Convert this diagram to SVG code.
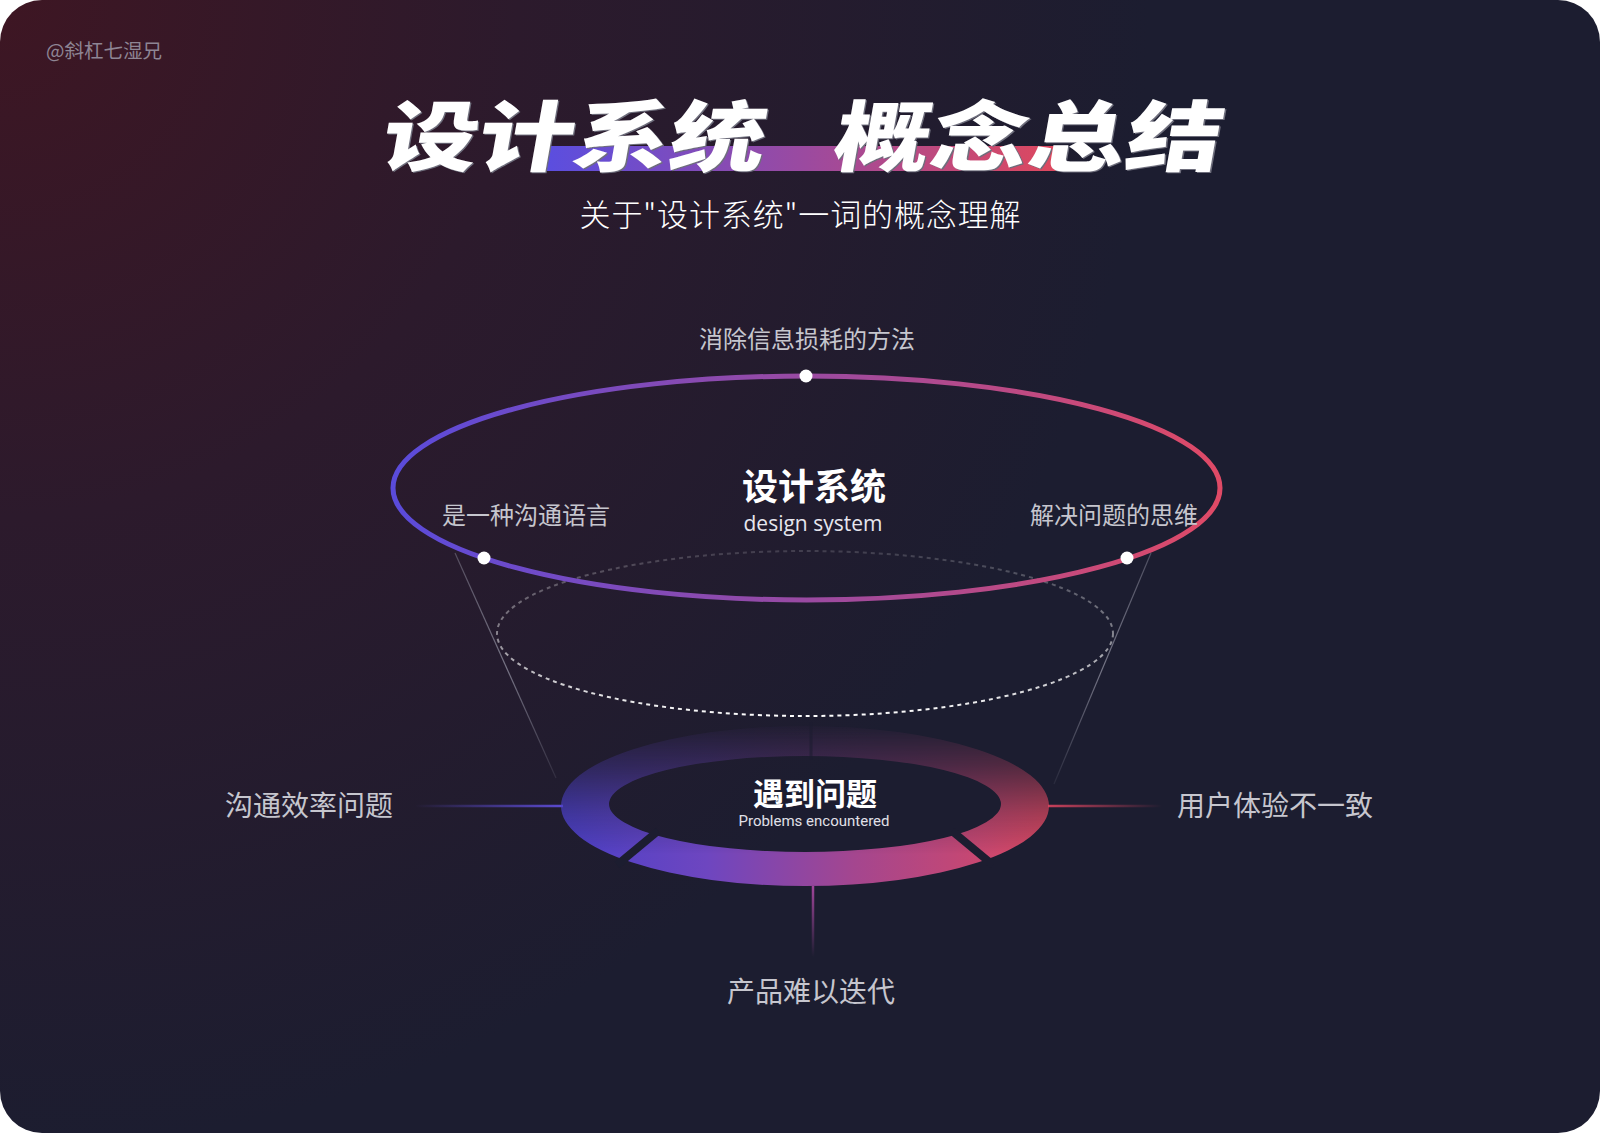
<svg xmlns="http://www.w3.org/2000/svg" width="1600" height="1133" viewBox="0 0 1600 1133">
<defs>
<radialGradient id="bg" cx="0" cy="0" r="1150" gradientUnits="userSpaceOnUse">
<stop offset="0" stop-color="#3e1623"/>
<stop offset="0.45" stop-color="#2c1a2c"/>
<stop offset="1" stop-color="#1c1d30"/>
</radialGradient>
<linearGradient id="bar" x1="0" y1="0" x2="1" y2="0">
<stop offset="0" stop-color="#5a4ee0"/>
<stop offset="0.5" stop-color="#9b4aa0"/>
<stop offset="1" stop-color="#e0485c"/>
</linearGradient>
<linearGradient id="ring1" x1="0" y1="0" x2="1" y2="0">
<stop offset="0" stop-color="#5a4bdb"/>
<stop offset="0.5" stop-color="#9a4aa2"/>
<stop offset="1" stop-color="#e04a66"/>
</linearGradient>
<linearGradient id="dash" x1="0" y1="551" x2="0" y2="716" gradientUnits="userSpaceOnUse">
<stop offset="0" stop-color="#ffffff" stop-opacity="0.15"/>
<stop offset="0.5" stop-color="#ffffff" stop-opacity="0.45"/>
<stop offset="1" stop-color="#ffffff" stop-opacity="1"/>
</linearGradient>
<linearGradient id="ring2" x1="561" y1="0" x2="1049" y2="0" gradientUnits="userSpaceOnUse">
<stop offset="0" stop-color="#4b40c8"/>
<stop offset="0.3" stop-color="#6e46c0"/>
<stop offset="0.6" stop-color="#a4468f"/>
<stop offset="1" stop-color="#dc4860"/>
</linearGradient>
<linearGradient id="fade" x1="0" y1="726" x2="0" y2="886" gradientUnits="userSpaceOnUse">
<stop offset="0" stop-color="#fff" stop-opacity="0.03"/>
<stop offset="0.25" stop-color="#fff" stop-opacity="0.3"/>
<stop offset="0.55" stop-color="#fff" stop-opacity="0.72"/>
<stop offset="0.8" stop-color="#fff" stop-opacity="1"/>
</linearGradient>
<mask id="ringMask" maskUnits="userSpaceOnUse" x="540" y="700" width="530" height="200">
<rect x="540" y="700" width="530" height="200" fill="url(#fade)"/>
</mask>
<linearGradient id="lnL" x1="415" y1="0" x2="563" y2="0" gradientUnits="userSpaceOnUse">
<stop offset="0" stop-color="#5b4ad0" stop-opacity="0"/>
<stop offset="1" stop-color="#5b4ad0" stop-opacity="1"/>
</linearGradient>
<linearGradient id="lnR" x1="1048" y1="0" x2="1162" y2="0" gradientUnits="userSpaceOnUse">
<stop offset="0" stop-color="#c8405a" stop-opacity="1"/>
<stop offset="1" stop-color="#c8405a" stop-opacity="0"/>
</linearGradient>
<linearGradient id="lnD" x1="0" y1="886" x2="0" y2="957" gradientUnits="userSpaceOnUse">
<stop offset="0" stop-color="#a0459a" stop-opacity="1"/>
<stop offset="1" stop-color="#a0459a" stop-opacity="0"/>
</linearGradient>
<linearGradient id="diag" x1="0" y1="553" x2="0" y2="785" gradientUnits="userSpaceOnUse">
<stop offset="0" stop-color="#9a9aaa" stop-opacity="0.4"/>
<stop offset="0.5" stop-color="#9a9aaa" stop-opacity="0.7"/>
<stop offset="1" stop-color="#9a9aaa" stop-opacity="0.1"/>
</linearGradient>
<style>
.cjk{font-family:"Noto Sans CJK SC","Noto Sans",sans-serif;}
.lbl{font-family:"Noto Sans CJK SC","Noto Sans",sans-serif;fill:#c6c6ce;text-anchor:middle;}
.title{font-family:"Noto Sans CJK SC",sans-serif;font-weight:900;font-size:96px;}
.dot{fill:#ffffff;}
</style>
</defs>

<rect width="1600" height="1133" fill="#ffffff"/>
<rect width="1600" height="1133" rx="42" fill="url(#bg)"/>

<text x="46" y="58" class="cjk" font-size="19.5" fill="#8e8594">@斜杠七湿兄</text>

<g id="title">
<rect x="544" y="146" width="519" height="25" fill="url(#bar)"/>
<g transform="translate(0,165) skewX(-10) scale(1,0.8) translate(0,-165)">
<text x="380" y="166" class="title" fill="#6e6e7c" textLength="383" lengthAdjust="spacing">设计系统</text>
<text x="832" y="166" class="title" fill="#6e6e7c" textLength="388" lengthAdjust="spacing">概念总结</text>
<text x="378.5" y="165" class="title" fill="#ffffff" textLength="383" lengthAdjust="spacing">设计系统</text>
<text x="830.5" y="165" class="title" fill="#ffffff" textLength="388" lengthAdjust="spacing">概念总结</text>
</g>
<text x="800" y="226" class="cjk" font-size="31" font-weight="300" fill="#ffffff" text-anchor="middle" textLength="441" lengthAdjust="spacing">关于"设计系统"一词的概念理解</text>
</g>

<g id="connectors">
<line x1="455" y1="553" x2="556" y2="778" stroke="url(#diag)" stroke-width="1.2"/>
<line x1="1151" y1="553" x2="1054" y2="784" stroke="url(#diag)" stroke-width="1.2"/>
<line x1="415" y1="806" x2="563" y2="806" stroke="url(#lnL)" stroke-width="2.5"/>
<line x1="1048" y1="806" x2="1162" y2="806" stroke="url(#lnR)" stroke-width="2.5"/>
<line x1="813" y1="886" x2="813" y2="957" stroke="url(#lnD)" stroke-width="2.5"/>
</g>

<g id="dashed-ellipse">
<ellipse cx="805" cy="633.5" rx="308" ry="82.5" fill="none" stroke="url(#dash)" stroke-width="2" stroke-dasharray="4 4"/>
</g>

<g id="design-system">
<ellipse cx="806.5" cy="488" rx="413.5" ry="112" fill="none" stroke="url(#ring1)" stroke-width="5"/>
<circle class="dot" cx="806" cy="376" r="6.5"/>
<circle class="dot" cx="484" cy="558" r="6.5"/>
<circle class="dot" cx="1127" cy="558" r="6.5"/>
<text x="814" y="500" class="cjk" font-size="36" font-weight="700" fill="#ffffff" text-anchor="middle">设计系统</text>
<text x="813" y="531" font-family="Open Sans, sans-serif" font-size="21" fill="#e6e6ee" text-anchor="middle">design system</text>
</g>

<g id="label-top"><text x="807" y="348" class="lbl" font-size="24">消除信息损耗的方法</text></g>
<g id="label-left"><text x="526" y="524" class="lbl" font-size="24">是一种沟通语言</text></g>
<g id="label-right"><text x="1114" y="524" class="lbl" font-size="24">解决问题的思维</text></g>

<g id="problems">
<g mask="url(#ringMask)">
<path d="M561 806a244 80 0 1 0 488 0a244 80 0 1 0 -488 0Z M609 804a196 48 0 1 0 392 0a196 48 0 1 0 -392 0Z" fill="url(#ring2)" fill-rule="evenodd"/>
</g>
<line x1="658" y1="831" x2="617" y2="865" stroke="#1c1d30" stroke-width="8"/>
<line x1="952" y1="831" x2="993" y2="865" stroke="#1c1d30" stroke-width="8"/>
<line x1="811" y1="722" x2="811" y2="760" stroke="#1c1d30" stroke-width="3" stroke-opacity="0.6"/>
<text x="815" y="805" class="cjk" font-size="31" font-weight="700" fill="#ffffff" text-anchor="middle">遇到问题</text>
<text x="814" y="826" font-family="Roboto, sans-serif" font-size="15" fill="#e0e0e8" text-anchor="middle">Problems encountered</text>
</g>

<g id="label-p1"><text x="309" y="816" class="lbl" font-size="28">沟通效率问题</text></g>
<g id="label-p2"><text x="1275" y="816" class="lbl" font-size="28">用户体验不一致</text></g>
<g id="label-p3"><text x="811" y="1002" class="lbl" font-size="28">产品难以迭代</text></g>
</svg>
